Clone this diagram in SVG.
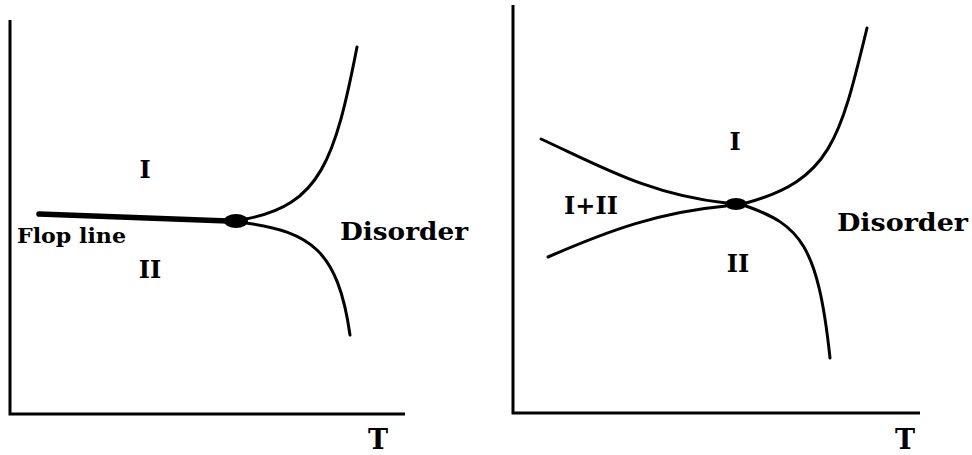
<svg xmlns="http://www.w3.org/2000/svg" width="972" height="455" viewBox="0 0 972 455">
<style>
.ax{fill:none;stroke:#000;stroke-width:3}
.cv{fill:none;stroke:#000;stroke-width:3;stroke-linecap:round}
.thick{stroke-width:5.5}
.lb{font-family:"DejaVu Serif",serif;font-weight:bold;font-size:24px;fill:#000}
.fl{font-family:"DejaVu Serif",serif;font-weight:bold;font-size:20px;fill:#000}
.t{font-family:"DejaVu Serif",serif;font-weight:bold;font-size:27px;fill:#000}
</style>
<rect width="972" height="455" fill="#fff"/>
<g id="left-axes">
<polyline class="ax" points="10,20 10,414 405,414"/>
<text class="t" x="378" y="449" text-anchor="middle">T</text>
</g>
<g id="right-axes">
<polyline class="ax" points="513,5 513,413 920,413"/>
<text class="t" x="905" y="449" text-anchor="middle">T</text>
</g>
<g id="connectors">
<path class="cv thick" d="M39,214 L228,221"/>
<path class="cv" d="M246,219 C320,205 335,160 357,47"/>
<path class="cv" d="M246,223 C310,232 338,250 350,335"/>
<path class="cv" d="M541,139 C600,166 650,195 726,203"/>
<path class="cv" d="M548,257 C610,230 660,212 726,206"/>
<path class="cv" d="M746,203 C830,180 840,140 867,28"/>
<path class="cv" d="M746,206 C800,225 818,245 830,358"/>
</g>
<g id="left-critical-point"><ellipse cx="236" cy="221" rx="12" ry="7"/></g>
<g id="right-critical-point"><ellipse cx="736" cy="204" rx="11" ry="6"/></g>
<g id="left-labels">
<text class="lb" x="145" y="178" text-anchor="middle">I</text>
<text class="lb" x="150" y="278" text-anchor="middle">II</text>
<text class="fl" x="17" y="243" textLength="109" lengthAdjust="spacingAndGlyphs">Flop line</text>
<text class="lb" x="340" y="240" textLength="128" lengthAdjust="spacingAndGlyphs">Disorder</text>
</g>
<g id="right-labels">
<text class="lb" x="735" y="150" text-anchor="middle">I</text>
<text class="lb" x="591" y="214" text-anchor="middle">I+II</text>
<text class="lb" x="738" y="272" text-anchor="middle">II</text>
<text class="lb" x="837" y="231" textLength="131" lengthAdjust="spacingAndGlyphs">Disorder</text>
</g>
</svg>
